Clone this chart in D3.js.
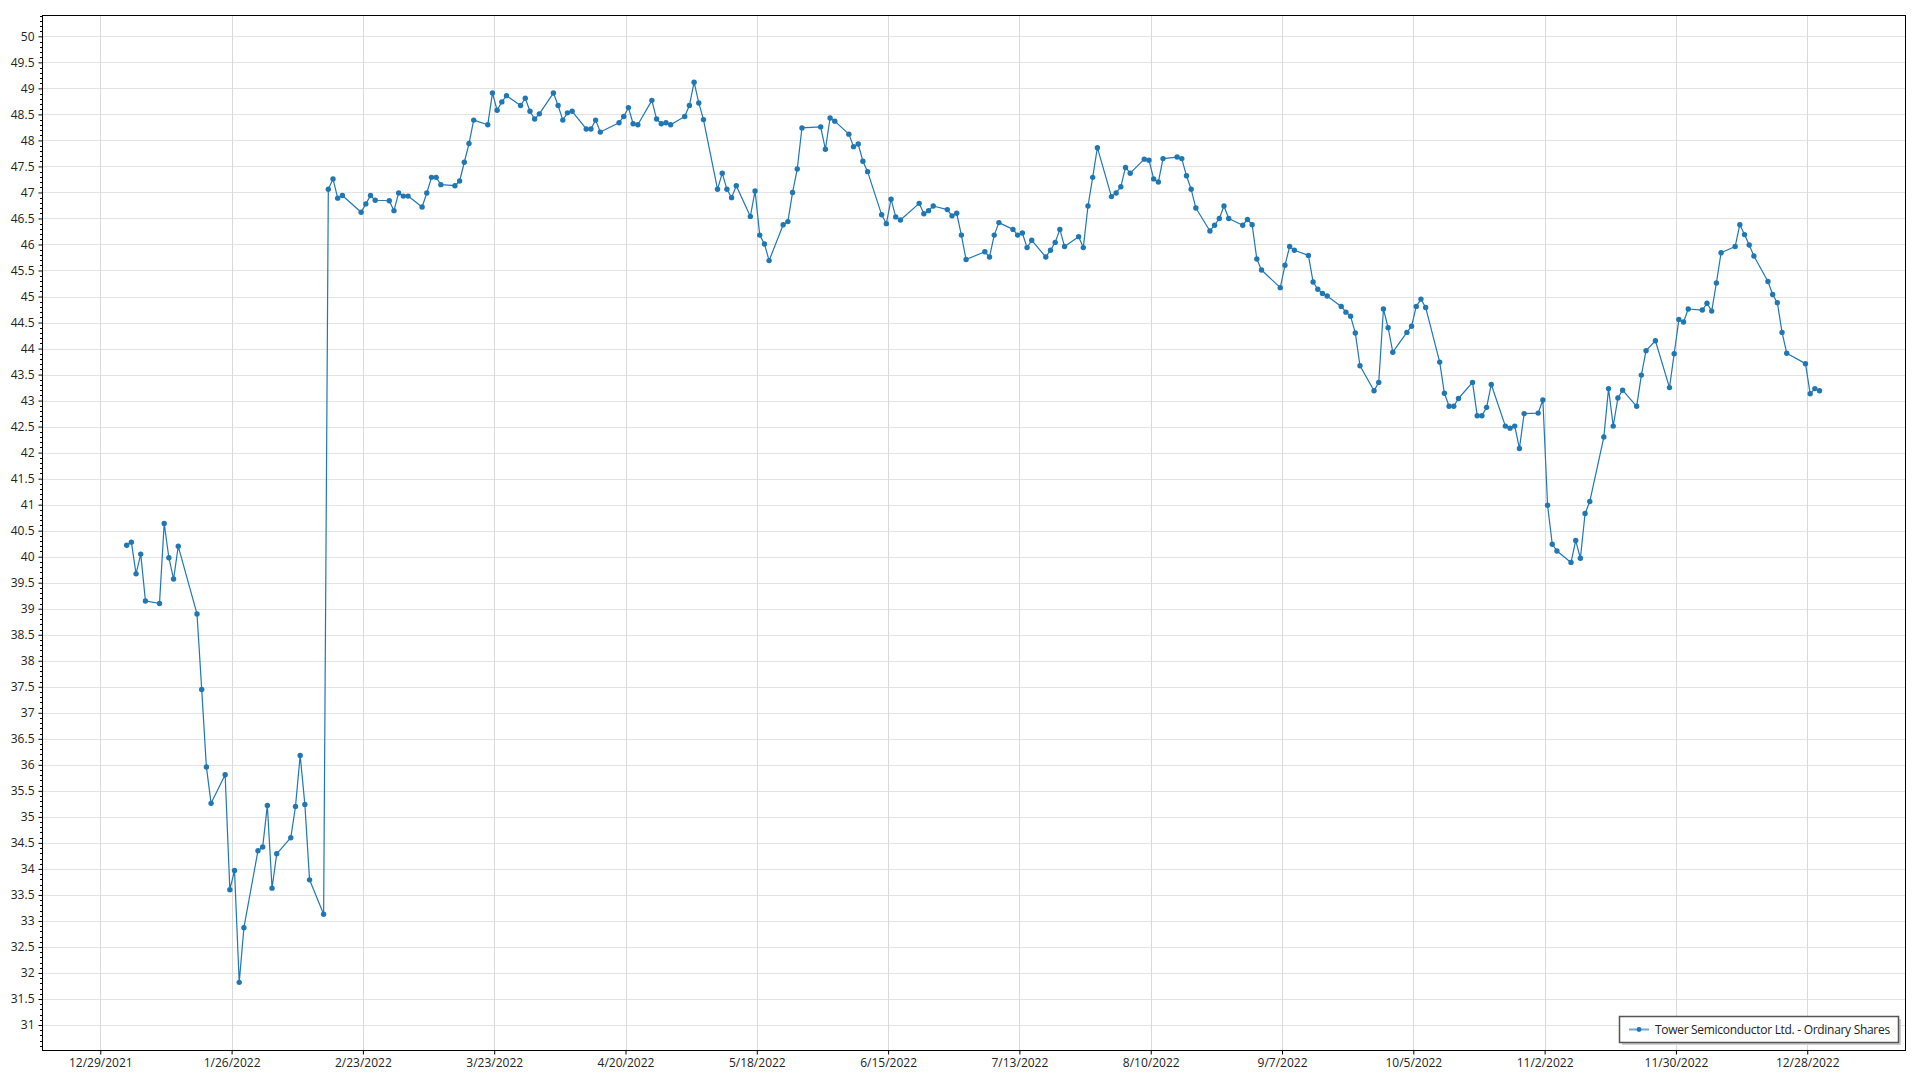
<!DOCTYPE html>
<html>
<head>
<meta charset="utf-8">
<script src="https://cdn.jsdelivr.net/npm/d3@7"></script>
<style>
  html, body { margin: 0; padding: 0; background: #fff; }
  svg { display: block; }
  text { font-family: "Open Sans", "Noto Sans", sans-serif; }
</style>
</head>
<body>
<svg id="chart" width="1920" height="1080"></svg>
<script>
const seriesName = "Tower Semiconductor Ltd. - Ordinary Shares";

const dates = [
"2022-01-03","2022-01-04","2022-01-05","2022-01-06","2022-01-07",
"2022-01-10","2022-01-11","2022-01-12","2022-01-13","2022-01-14",
"2022-01-18","2022-01-19","2022-01-20","2022-01-21",
"2022-01-24","2022-01-25","2022-01-26","2022-01-27","2022-01-28",
"2022-01-31","2022-02-01","2022-02-02","2022-02-03","2022-02-04",
"2022-02-07","2022-02-08","2022-02-09","2022-02-10","2022-02-11",
"2022-02-14","2022-02-15","2022-02-16","2022-02-17","2022-02-18",
"2022-02-22","2022-02-23","2022-02-24","2022-02-25",
"2022-02-28","2022-03-01","2022-03-02","2022-03-03","2022-03-04",
"2022-03-07","2022-03-08","2022-03-09","2022-03-10","2022-03-11",
"2022-03-14","2022-03-15","2022-03-16","2022-03-17","2022-03-18",
"2022-03-21","2022-03-22","2022-03-23","2022-03-24","2022-03-25",
"2022-03-28","2022-03-29","2022-03-30","2022-03-31","2022-04-01",
"2022-04-04","2022-04-05","2022-04-06","2022-04-07","2022-04-08",
"2022-04-11","2022-04-12","2022-04-13","2022-04-14",
"2022-04-18","2022-04-19","2022-04-20","2022-04-21","2022-04-22",
"2022-04-25","2022-04-26","2022-04-27","2022-04-28","2022-04-29",
"2022-05-02","2022-05-03","2022-05-04","2022-05-05","2022-05-06",
"2022-05-09","2022-05-10","2022-05-11","2022-05-12","2022-05-13",
"2022-05-16","2022-05-17","2022-05-18","2022-05-19","2022-05-20",
"2022-05-23","2022-05-24","2022-05-25","2022-05-26","2022-05-27",
"2022-05-31","2022-06-01","2022-06-02","2022-06-03",
"2022-06-06","2022-06-07","2022-06-08","2022-06-09","2022-06-10",
"2022-06-13","2022-06-14","2022-06-15","2022-06-16","2022-06-17",
"2022-06-21","2022-06-22","2022-06-23","2022-06-24",
"2022-06-27","2022-06-28","2022-06-29","2022-06-30","2022-07-01",
"2022-07-05","2022-07-06","2022-07-07","2022-07-08",
"2022-07-11","2022-07-12","2022-07-13","2022-07-14","2022-07-15",
"2022-07-18","2022-07-19","2022-07-20","2022-07-21","2022-07-22",
"2022-07-25","2022-07-26","2022-07-27","2022-07-28","2022-07-29",
"2022-08-01","2022-08-02","2022-08-03","2022-08-04","2022-08-05",
"2022-08-08","2022-08-09","2022-08-10","2022-08-11","2022-08-12",
"2022-08-15","2022-08-16","2022-08-17","2022-08-18","2022-08-19",
"2022-08-22","2022-08-23","2022-08-24","2022-08-25","2022-08-26",
"2022-08-29","2022-08-30","2022-08-31","2022-09-01","2022-09-02",
"2022-09-06","2022-09-07","2022-09-08","2022-09-09",
"2022-09-12","2022-09-13","2022-09-14","2022-09-15","2022-09-16",
"2022-09-19","2022-09-20","2022-09-21","2022-09-22","2022-09-23",
"2022-09-26","2022-09-27","2022-09-28","2022-09-29","2022-09-30",
"2022-10-03","2022-10-04","2022-10-05","2022-10-06","2022-10-07",
"2022-10-10","2022-10-11","2022-10-12","2022-10-13","2022-10-14",
"2022-10-17","2022-10-18","2022-10-19","2022-10-20","2022-10-21",
"2022-10-24","2022-10-25","2022-10-26","2022-10-27","2022-10-28",
"2022-10-31","2022-11-01","2022-11-02","2022-11-03","2022-11-04",
"2022-11-07","2022-11-08","2022-11-09","2022-11-10","2022-11-11",
"2022-11-14","2022-11-15","2022-11-16","2022-11-17","2022-11-18",
"2022-11-21","2022-11-22","2022-11-23","2022-11-25",
"2022-11-28","2022-11-29","2022-11-30","2022-12-01","2022-12-02",
"2022-12-05","2022-12-06","2022-12-07","2022-12-08","2022-12-09",
"2022-12-12","2022-12-13","2022-12-14","2022-12-15","2022-12-16",
"2022-12-19","2022-12-20","2022-12-21","2022-12-22","2022-12-23",
"2022-12-27","2022-12-28","2022-12-29","2022-12-30"
];

const values = [
40.22,40.28,39.67,40.05,39.15,
39.10,40.64,39.98,39.57,40.20,
38.90,37.45,35.96,35.26,
35.81,33.60,33.97,31.82,32.87,
34.35,34.42,35.22,33.63,34.29,
34.60,35.20,36.18,35.24,33.79,
33.13,47.06,47.26,46.89,46.94,
46.62,46.78,46.94,46.85,
46.84,46.65,46.99,46.93,46.93,
46.72,46.99,47.29,47.29,47.15,
47.13,47.22,47.58,47.94,48.39,
48.30,48.91,48.58,48.74,48.86,
48.67,48.81,48.56,48.41,48.51,
48.91,48.67,48.39,48.53,48.56,
48.22,48.22,48.39,48.16,
48.34,48.46,48.63,48.32,48.30,
48.77,48.41,48.32,48.34,48.30,
48.46,48.67,49.12,48.72,48.40,
47.06,47.37,47.06,46.90,47.13,
46.54,47.03,46.18,46.01,45.69,
46.38,46.44,47.00,47.45,48.24,
48.26,47.83,48.43,48.37,
48.12,47.88,47.93,47.60,47.40,
46.57,46.40,46.87,46.53,46.47,
46.79,46.59,46.65,46.74,
46.67,46.55,46.60,46.18,45.71,
45.86,45.76,46.18,46.42,
46.29,46.18,46.22,45.94,46.08,
45.76,45.89,46.04,46.29,45.96,
46.15,45.94,46.74,47.29,47.86,
46.92,46.99,47.11,47.48,47.37,
47.64,47.62,47.26,47.20,47.65,
47.68,47.65,47.32,47.06,46.70,
46.26,46.37,46.50,46.74,46.50,
46.37,46.48,46.38,45.72,45.51,
45.17,45.60,45.96,45.89,
45.79,45.28,45.14,45.06,45.01,
44.81,44.70,44.62,44.30,43.67,
43.19,43.35,44.76,44.40,43.93,
44.31,44.43,44.81,44.95,44.79,
43.74,43.14,42.89,42.89,43.04,
43.35,42.71,42.71,42.87,43.31,
42.51,42.47,42.51,42.08,42.75,
42.76,43.01,40.99,40.24,40.11,
39.89,40.31,39.97,40.83,41.06,
42.30,43.23,42.51,43.05,43.20,
42.89,43.49,43.96,44.15,
43.25,43.90,44.56,44.51,44.76,
44.74,44.87,44.72,45.26,45.84,
45.96,46.38,46.19,45.99,45.78,
45.29,45.04,44.88,44.31,43.91,
43.71,43.13,43.23,43.19
];

const xTickLabels = ["12/29/2021","1/26/2022","2/23/2022","3/23/2022","4/20/2022","5/18/2022",
  "6/15/2022","7/13/2022","8/10/2022","9/7/2022","10/5/2022","11/2/2022","11/30/2022","12/28/2022"];

const yTickLabels = ["31","31.5","32","32.5","33","33.5","34","34.5","35","35.5","36","36.5","37","37.5",
  "38","38.5","39","39.5","40","40.5","41","41.5","42","42.5","43","43.5","44","44.5","45","45.5",
  "46","46.5","47","47.5","48","48.5","49","49.5","50"];

const xDomain = ["2021-12-16T13:40","2023-01-17T20:20"];
const yDomain = [30.52, 50.41];

// ---------- drawing ----------
const svg = d3.select("#chart");
const plot = { left: 42, right: 1905, top: 15, bottom: 1050 };

const parseDay = d3.timeParse("%Y-%m-%d");
const parseStamp = d3.timeParse("%Y-%m-%dT%H:%M");
const parseTick = d3.timeParse("%m/%d/%Y");
const fmtTick = d3.timeFormat("%-m/%-d/%Y");

const x = d3.scaleTime()
  .domain(xDomain.map(parseStamp))
  .range([plot.left, plot.right]);
const y = d3.scaleLinear()
  .domain(yDomain)
  .range([plot.bottom, plot.top]);

const data = dates.map((d, i) => ({ date: d3.timeHour.offset(parseDay(d), 15), value: values[i] }));
const xTicks = xTickLabels.map(parseTick);
const yTicks = yTickLabels.map(Number);

// background
svg.append("rect").attr("x", 0).attr("y", 0).attr("width", 1920).attr("height", 1080).attr("fill", "#fff");

// horizontal gridlines
svg.append("g").selectAll("line").data(yTicks).join("line")
  .attr("x1", plot.left).attr("x2", plot.right)
  .attr("y1", d => Math.round(y(d)) + 0.5).attr("y2", d => Math.round(y(d)) + 0.5)
  .attr("stroke", "#e3e3e3").attr("stroke-width", 1);

// vertical gridlines
svg.append("g").selectAll("line").data(xTicks).join("line")
  .attr("y1", plot.top).attr("y2", plot.bottom)
  .attr("x1", d => Math.round(x(d)) + 0.5).attr("x2", d => Math.round(x(d)) + 0.5)
  .attr("stroke", "#dadada").attr("stroke-width", 1);

// y axis
const yAxis = d3.axisLeft(y).tickValues(yTicks).tickSize(4).tickPadding(4)
  .tickFormat((d, i) => yTickLabels[i]);
const gy = svg.append("g").attr("transform", `translate(${plot.left + 0.5},0)`).call(yAxis);
gy.select(".domain").remove();
gy.selectAll(".tick line").attr("stroke", "#000");
gy.selectAll(".tick text").attr("font-size", 12).attr("fill", "#222")
  .attr("font-family", "'Open Sans', 'Noto Sans', sans-serif");

// y minor ticks
const minor = d3.range(306, 505, 1).map(v => v / 10).filter(v => Math.abs(v * 2 - Math.round(v * 2)) > 1e-6);
svg.append("g").selectAll("line").data(minor).join("line")
  .attr("x1", plot.left - 2).attr("x2", plot.left)
  .attr("y1", d => Math.round(y(d)) + 0.5).attr("y2", d => Math.round(y(d)) + 0.5)
  .attr("stroke", "#000").attr("stroke-width", 1);

// x axis
const xAxis = d3.axisBottom(x).tickValues(xTicks).tickSize(4).tickPadding(4).tickFormat(fmtTick);
const gx = svg.append("g").attr("transform", `translate(0,${plot.bottom + 0.5})`).call(xAxis);
gx.select(".domain").remove();
gx.selectAll(".tick line").attr("stroke", "#000");
gx.selectAll(".tick text").attr("font-size", 12).attr("fill", "#222")
  .attr("font-family", "'Open Sans', 'Noto Sans', sans-serif");

// frame
svg.append("rect")
  .attr("x", plot.left + 0.5).attr("y", plot.top + 0.5)
  .attr("width", plot.right - plot.left).attr("height", plot.bottom - plot.top)
  .attr("fill", "none").attr("stroke", "#000").attr("stroke-width", 1);

// series line
const line = d3.line().x(d => x(d.date)).y(d => y(d.value));
svg.append("path").datum(data)
  .attr("d", line).attr("fill", "none")
  .attr("stroke", "#1f77b4").attr("stroke-width", 1.2).attr("stroke-linejoin", "round");

svg.append("g").selectAll("circle").data(data).join("circle")
  .attr("cx", d => x(d.date)).attr("cy", d => y(d.value)).attr("r", 2.7)
  .attr("fill", "#1f77b4");

// legend
const lg = svg.append("g").attr("transform", "translate(1619,1016)");
const lw = 279, lh = 26;
lg.append("rect").attr("x", 3).attr("y", 3).attr("width", lw).attr("height", lh).attr("fill", "#cfcfcf");
lg.append("rect").attr("x", 0.5).attr("y", 0.5).attr("width", lw).attr("height", lh)
  .attr("fill", "#fff").attr("stroke", "#555").attr("stroke-width", 1.5);
lg.append("line").attr("x1", 10).attr("x2", 30).attr("y1", 13.5).attr("y2", 13.5)
  .attr("stroke", "#6fa8d6").attr("stroke-width", 2);
lg.append("circle").attr("cx", 20).attr("cy", 13.5).attr("r", 2.4).attr("fill", "#1f77b4");
lg.append("text").attr("x", 36).attr("y", 18).attr("font-size", 12).attr("letter-spacing", -0.3)
  .attr("fill", "#222").text(seriesName);
</script>
</body>
</html>
